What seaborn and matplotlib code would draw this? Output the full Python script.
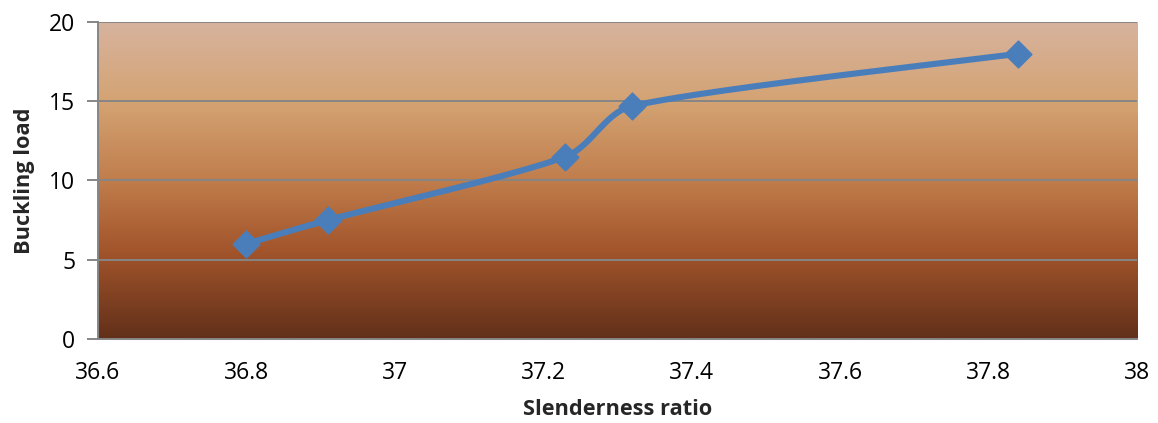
import numpy as np
import pandas as pd
import matplotlib
matplotlib.use("Agg")
import matplotlib.pyplot as plt
import seaborn as sns
from matplotlib.colors import LinearSegmentedColormap

slenderness = [36.80, 36.91, 37.23, 37.32, 37.84]
buckling = [6.0, 7.5, 11.5, 14.7, 18.0]
x_ticks = [36.6, 36.8, 37.0, 37.2, 37.4, 37.6, 37.8, 38.0]
x_tick_labels = ["36.6", "36.8", "37", "37.2", "37.4", "37.6", "37.8", "38"]
y_ticks = [0, 5, 10, 15, 20]

sns.set_theme(style="white")
plt.rcParams['font.family'] = ['Open Sans', 'DejaVu Sans']

fig = plt.figure(figsize=(11.58, 4.23), dpi=100)
ax = fig.add_axes([0.0842, 0.1986, 0.8977, 0.7494])
xmin, xmax, ymin, ymax = 36.6, 38.0, 0, 20

# background gradient (top light, bottom dark)
cmap = LinearSegmentedColormap.from_list("bg", [
    (0.0, "#d7b39e"), (0.25, "#d4a373"), (0.5, "#c07d4c"),
    (0.72, "#a3552b"), (1.0, "#62301a")])
grad = np.linspace(0, 1, 256).reshape(-1, 1)
ax.imshow(grad, cmap=cmap, aspect="auto", extent=[xmin, xmax, ymin, ymax],
          zorder=0, origin="upper")
ax.set_xlim(xmin, xmax)
ax.set_ylim(ymin, ymax)

for yt in y_ticks[1:]:
    ax.axhline(yt, color="#868686", lw=1.4, zorder=1)

# Excel-like smoothing (Bezier, tension 1/6 with clamped handles, pixel space)
W, H = 1040.0, 317.0
px = (np.array(slenderness) - xmin) / (xmax - xmin) * W
py = (np.array(buckling) - ymin) / (ymax - ymin) * H
P = np.column_stack([px, py])
n = len(P)


def clamp(v, limit):
    L = np.linalg.norm(v)
    return v * (limit / L) if L > limit else v


curve = []
for i in range(n - 1):
    p0 = P[i - 1] if i > 0 else P[i]
    p1 = P[i]
    p2 = P[i + 1]
    p3 = P[i + 2] if i + 2 < n else P[i + 1]
    d12 = np.linalg.norm(p2 - p1)
    c1 = p1 + clamp((p2 - p0) / 6.0, d12 / 3.0)
    c2 = p2 - clamp((p3 - p1) / 6.0, d12 / 3.0)
    t = np.linspace(0, 1, 60)[:, None]
    seg = ((1 - t) ** 3) * p1 + 3 * ((1 - t) ** 2) * t * c1 + 3 * (1 - t) * t ** 2 * c2 + t ** 3 * p2
    curve.append(seg if i == 0 else seg[1:])
curve = np.vstack(curve)
cx = curve[:, 0] / W * (xmax - xmin) + xmin
cy = curve[:, 1] / H * (ymax - ymin) + ymin

sns.lineplot(x=cx, y=cy, sort=False, ax=ax, color="#4a7ebb", lw=4.4, zorder=3)
sns.scatterplot(x=slenderness, y=buckling, ax=ax, marker="D", s=185,
                color="#4a7ebb", edgecolor="#4a7ebb", zorder=4)

ax.set_xticks(x_ticks)
ax.set_xticklabels(x_tick_labels)
ax.set_yticks(y_ticks)
ax.tick_params(axis="both", labelsize=16.5, colors="black")
ax.tick_params(axis="y", length=8, width=1.4, color="#868686", direction="out", left=True, pad=8)
ax.tick_params(axis="x", length=0, pad=16)

for s in ["top", "right"]:
    ax.spines[s].set_visible(False)
for s in ["left", "bottom"]:
    ax.spines[s].set_color("#868686")
    ax.spines[s].set_linewidth(1.4)

ax.set_xlabel("Slenderness ratio", fontsize=15.7, fontweight="bold", labelpad=10)
ax.set_ylabel("Buckling load", fontsize=15.7, fontweight="bold", labelpad=10)

fig.savefig("out.png", dpi=100)
